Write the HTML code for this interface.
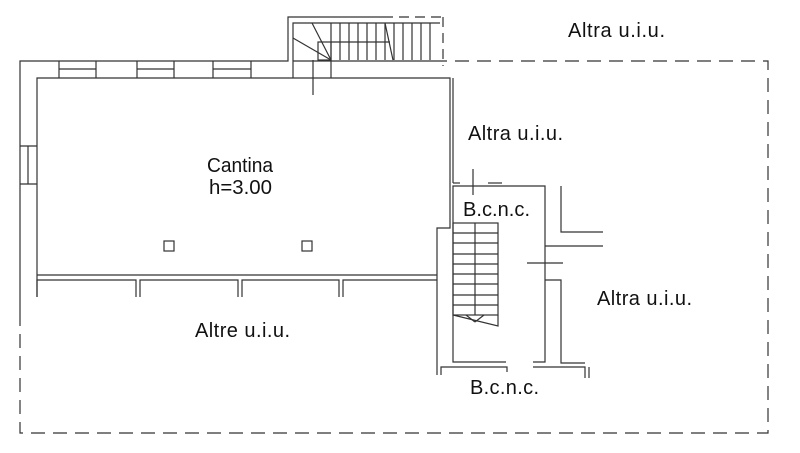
<!DOCTYPE html>
<html><head><style>html,body{margin:0;padding:0;background:#fff}svg{display:block}</style></head>
<body>
<svg width="800" height="453" xmlns="http://www.w3.org/2000/svg" font-family="Liberation Sans, sans-serif">
<g stroke="#333" stroke-width="1.2" fill="none">
<polyline points="20,312 20,61 288,61 288,17 383,17"/>
<line x1="383" y1="17" x2="443" y2="17" stroke-dasharray="10,6"/>
<line x1="443" y1="17" x2="443" y2="66" stroke-dasharray="10,6"/>
<line x1="293" y1="61" x2="443" y2="61"/>
<polyline points="37,297 37,78 450,78 450,228 437,228 437,375"/>
<line x1="453" y1="78" x2="453" y2="183"/>
<polyline points="293,78 293,23 440,23"/>
<rect x="318" y="42" width="13" height="18"/>
<line x1="331" y1="23" x2="331" y2="78"/>
<line x1="313" y1="60" x2="313" y2="95"/>
<line x1="293" y1="38" x2="331" y2="60"/>
<line x1="312" y1="23" x2="331" y2="60"/>
<line x1="385" y1="23" x2="393" y2="60"/>
<g>
<line x1="340" y1="23" x2="340" y2="60"/><line x1="349" y1="23" x2="349" y2="60"/><line x1="358" y1="23" x2="358" y2="60"/><line x1="367" y1="23" x2="367" y2="60"/><line x1="376" y1="23" x2="376" y2="60"/><line x1="385" y1="23" x2="385" y2="60"/><line x1="394" y1="23" x2="394" y2="60"/><line x1="403" y1="23" x2="403" y2="60"/><line x1="412" y1="23" x2="412" y2="60"/><line x1="421" y1="23" x2="421" y2="60"/><line x1="430" y1="23" x2="430" y2="60"/>
</g>
<line x1="331" y1="42" x2="390" y2="42"/>
<line x1="59" y1="61" x2="59" y2="78"/><line x1="96" y1="61" x2="96" y2="78"/><line x1="59" y1="69" x2="96" y2="69"/>
<line x1="137" y1="61" x2="137" y2="78"/><line x1="174" y1="61" x2="174" y2="78"/><line x1="137" y1="69" x2="174" y2="69"/>
<line x1="213" y1="61" x2="213" y2="78"/><line x1="251" y1="61" x2="251" y2="78"/><line x1="213" y1="69" x2="251" y2="69"/>
<line x1="20" y1="146" x2="37" y2="146"/><line x1="20" y1="184" x2="37" y2="184"/><line x1="28" y1="146" x2="28" y2="184"/>
<line x1="37" y1="275" x2="437" y2="275"/>
<polyline points="37,297 37,280 136,280 136,297"/>
<polyline points="140,297 140,280 238,280 238,297"/>
<polyline points="242,297 242,280 339,280 339,297"/>
<polyline points="343,297 343,280 437,280"/>
<rect x="164" y="241" width="10" height="10"/>
<rect x="302" y="241" width="10" height="10"/>
<polyline points="20,312 20,433 768,433 768,61 443,61" stroke-dasharray="14,8"/>
<polyline points="453,183 460,183"/><polyline points="488,183 502,183"/>
<line x1="473" y1="169" x2="473" y2="195"/>
<polyline points="506,362 453,362 453,186 545,186 545,362 533,362"/>
<polyline points="441,375 441,367 507,367 507,372"/>
<polyline points="533,367 585,367 585,378"/><line x1="589" y1="367" x2="589" y2="378"/>
<polyline points="561,186 561,232 603,232"/>
<line x1="545" y1="246" x2="603" y2="246"/>
<polyline points="545,280 561,280 561,363 585,363"/>
<line x1="527" y1="263" x2="563" y2="263"/>
<rect x="453" y="223" width="45" height="92"/>
<line x1="475" y1="223" x2="475" y2="315"/>
<g>
<line x1="453" y1="233" x2="498" y2="233"/><line x1="453" y1="243" x2="498" y2="243"/><line x1="453" y1="254" x2="498" y2="254"/><line x1="453" y1="264" x2="498" y2="264"/><line x1="453" y1="274" x2="498" y2="274"/><line x1="453" y1="284" x2="498" y2="284"/><line x1="453" y1="295" x2="498" y2="295"/><line x1="453" y1="305" x2="498" y2="305"/>
</g>
<polyline points="453,315 498,326 498,315"/>
<line x1="466" y1="315" x2="475" y2="322"/><line x1="475" y1="322" x2="484" y2="315"/>
</g>
<g fill="#111" font-size="20">
<text x="568" y="37" textLength="97" lengthAdjust="spacing">Altra u.i.u.</text>
<text x="468" y="140" textLength="95" lengthAdjust="spacing">Altra u.i.u.</text>
<text x="207" y="172" textLength="66" lengthAdjust="spacingAndGlyphs">Cantina</text>
<text x="209" y="194" textLength="63" lengthAdjust="spacingAndGlyphs">h=3.00</text>
<text x="463" y="216" textLength="67" lengthAdjust="spacing">B.c.n.c.</text>
<text x="597" y="305" textLength="95" lengthAdjust="spacing">Altra u.i.u.</text>
<text x="195" y="337" textLength="95" lengthAdjust="spacing">Altre u.i.u.</text>
<text x="470" y="394" textLength="69" lengthAdjust="spacing">B.c.n.c.</text>
</g>
</svg>
</body></html>
